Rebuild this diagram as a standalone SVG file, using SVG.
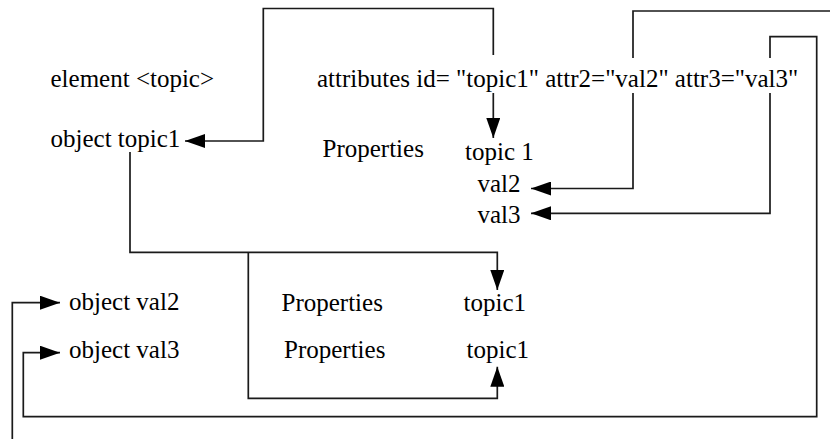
<svg xmlns="http://www.w3.org/2000/svg" width="830" height="439" viewBox="0 0 830 439">
  <defs>
    <marker id="arrow" viewBox="0 0 20 14" refX="20" refY="7" markerWidth="20" markerHeight="14" markerUnits="userSpaceOnUse" orient="auto">
      <path d="M0,0 L20,7 L0,14 Z" fill="#000"/>
    </marker>
  </defs>
  <style>
    text { font-family: "Liberation Serif", "Times New Roman", "DejaVu Serif", serif; font-size: 25px; fill: #000; }
    .wire { fill: none; stroke: #1a1a1a; stroke-width: 1.7; }
    .arr { marker-end: url(#arrow); }
  </style>
  <rect width="830" height="439" fill="#fff"/>

  <g id="connectors">
    <!-- id="topic1" back to the object -->
    <path class="wire arr" d="M493.3,55 V8.5 H263.3 V141 H185"/>
    <path class="wire arr" d="M493.3,93 V138"/>
    <!-- attr2 -->
    <path class="wire" d="M633,58 V11 H830"/>
    <path class="wire arr" d="M633,93 V188.5 H531"/>
    <!-- attr3 -->
    <path class="wire arr" d="M770,58 V36.7 H816.7 V416.7 H23.3 V352.7 H60"/>
    <path class="wire arr" d="M770,93 V213.3 H531"/>
    <!-- incoming val2 -->
    <path class="wire arr" d="M12.3,439 V302.7 H60"/>
    <!-- object topic1 to property values -->
    <path class="wire arr" d="M130,152 V252.3 H497.3 V290"/>
    <path class="wire arr" d="M248.3,252.3 V398.3 H497.3 V366.7"/>
  </g>

  <g id="element-topic"><text x="50.5" y="86.5">element &lt;topic&gt;</text></g>
  <g id="attributes"><text x="317" y="86.5">attributes id= "topic1" attr2="val2" attr3="val3"</text></g>
  <g id="object-topic1"><text x="50.5" y="146.5">object topic1</text></g>
  <g id="properties-topic1"><text x="322.5" y="156.5">Properties</text></g>
  <g id="value-topic1"><text x="465" y="160">topic 1</text></g>
  <g id="value-val2"><text x="477.5" y="192">val2</text></g>
  <g id="value-val3"><text x="477.5" y="222.5">val3</text></g>

  <g id="object-val2"><text x="69" y="310">object val2</text></g>
  <g id="properties-val2"><text x="281.5" y="310.5">Properties</text></g>
  <g id="ref-val2"><text x="463.5" y="310.5">topic1</text></g>

  <g id="object-val3"><text x="69" y="357.5">object val3</text></g>
  <g id="properties-val3"><text x="284" y="358">Properties</text></g>
  <g id="ref-val3"><text x="466.5" y="358">topic1</text></g>
</svg>
